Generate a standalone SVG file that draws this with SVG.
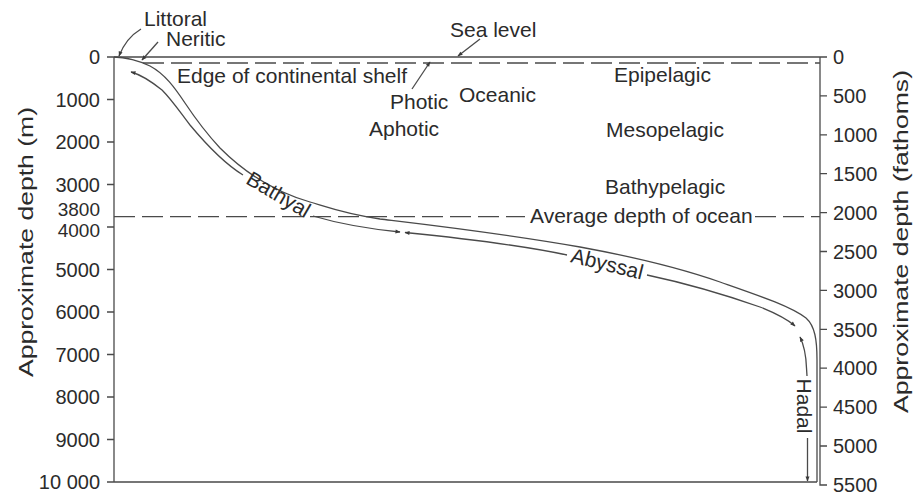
<svg xmlns="http://www.w3.org/2000/svg" width="915" height="497" viewBox="0 0 915 497">
<defs>
<style>
.ln{fill:none;stroke:#4a4a4a;stroke-width:1.3}
.dash{fill:none;stroke:#4a4a4a;stroke-width:1.3;stroke-dasharray:21 7}
.tx{font-family:"Liberation Sans",Arial,sans-serif;font-size:21px;fill:#2b2b2b}
.ttl{font-family:"Liberation Sans",Arial,sans-serif;font-size:20px;fill:#2b2b2b}
.num{font-family:"Liberation Sans",Arial,sans-serif;font-size:20px;fill:#2b2b2b}
.sm{font-size:19px}
.l{text-anchor:end}
.m{text-anchor:middle}
</style>
<marker id="ah" viewBox="0 0 10 10" refX="9" refY="5" markerWidth="7" markerHeight="5" markerUnits="userSpaceOnUse" orient="auto-start-reverse">
<path d="M0,1 L10,5 L0,9 z" fill="#3a3a3a"/>
</marker>
</defs>
<rect width="915" height="497" fill="#ffffff"/>

<g id="axes">
<path class="ln" d="M107,57 H827 M114,57 V482 M107,482 H817 M820,57 V485 H827"/>
<path class="ln" d="M107,99.5 H114 M107,142 H114 M107,184.5 H114 M107,227 H114 M107,269.5 H114 M107,312 H114 M107,354.5 H114 M107,397 H114 M107,439.5 H114"/>
<path class="ln" d="M820,95.9 H827 M820,134.8 H827 M820,173.7 H827 M820,212.6 H827 M820,251.5 H827 M820,290.4 H827 M820,329.3 H827 M820,368.2 H827 M820,407.1 H827 M820,446 H827"/>
<g class="num l">
<text x="100" y="64">0</text>
<text x="100" y="106.5">1000</text>
<text x="100" y="149">2000</text>
<text x="100" y="191.5">3000</text>
<text class="sm" x="100" y="216">3800</text>
<text class="sm" x="100" y="237">4000</text>
<text x="100" y="276.5">5000</text>
<text x="100" y="319">6000</text>
<text x="100" y="361.5">7000</text>
<text x="100" y="404">8000</text>
<text x="100" y="446.5">9000</text>
<text x="100" y="489">10 000</text>
</g>
<g class="num">
<text x="833" y="64">0</text>
<text x="833" y="103">500</text>
<text x="833" y="142">1000</text>
<text x="833" y="181">1500</text>
<text x="833" y="220">2000</text>
<text x="833" y="258.5">2500</text>
<text x="833" y="297.5">3000</text>
<text x="833" y="336.5">3500</text>
<text x="833" y="375">4000</text>
<text x="833" y="414">4500</text>
<text x="833" y="453">5000</text>
<text x="833" y="492">5500</text>
</g>
<text class="ttl m" transform="translate(33,242) rotate(-90)" textLength="270" lengthAdjust="spacingAndGlyphs">Approximate depth (m)</text>
<text class="ttl m" transform="translate(907.5,241.5) rotate(-90)" textLength="343" lengthAdjust="spacingAndGlyphs">Approximate depth (fathoms)</text>
</g>

<g id="reference-lines">
<path class="dash" d="M143,63 H820"/>
<path class="dash" d="M114,216.7 H525"/>
<path class="dash" d="M755,216.7 H820" stroke-dasharray="5 4 22 7"/>
</g>

<g id="seafloor">
<path class="ln" d="M114,57 C125,57 140,61 150,66 C165,74 175,88 185,103 C197,121 207,134 220,148 C245,173 275,192 310,202 C330,208 345,214 380,219 C430,225 500,233 580,247 C640,258 680,268 720,282 C760,296 790,306 806,318 C815,326 817,340 817,360 L817,482"/>
</g>

<g id="connectors">
<path class="ln" marker-start="url(#ah)" d="M131,72 C142,75 152,82 162,90 C172,100 180,112 190,125 C205,143 222,162 243,175"/>
<path class="ln" marker-end="url(#ah)" d="M313,216 C340,224 370,229 400,232"/>
<path class="ln" marker-start="url(#ah)" d="M405,232.5 C440,236 520,245 567,255"/>
<path class="ln" marker-end="url(#ah)" d="M647,275 C680,282 720,293 760,307 C775,313 787,319 795,326"/>
<path class="ln" marker-start="url(#ah)" d="M800,337 C804,345 806,355 806.5,368 L807,376"/>
<path class="ln" marker-end="url(#ah)" d="M807.5,438 L807.5,481"/>
<path class="ln" marker-end="url(#ah)" d="M141,29 Q126,38 119,56"/>
<path class="ln" marker-end="url(#ah)" d="M158,42 L142,60"/>
<path class="ln" marker-end="url(#ah)" d="M480,39 L458,56"/>
<path class="ln" marker-end="url(#ah)" d="M412,89 L430,62"/>
</g>

<g id="zone-littoral"><text class="tx" x="144" y="26">Littoral</text></g>
<g id="zone-neritic"><text class="tx" x="166" y="46">Neritic</text></g>
<g id="sea-level"><text class="tx" x="450" y="37">Sea level</text></g>
<g id="edge-shelf"><text class="tx" x="177" y="83">Edge of continental shelf</text></g>
<g id="photic"><text class="tx" x="390" y="109">Photic</text></g>
<g id="aphotic"><text class="tx" x="369" y="136">Aphotic</text></g>
<g id="oceanic"><text class="tx" x="459" y="102">Oceanic</text></g>
<g id="epipelagic"><text class="tx" x="614" y="82">Epipelagic</text></g>
<g id="mesopelagic"><text class="tx" x="606" y="137">Mesopelagic</text></g>
<g id="bathypelagic"><text class="tx" x="605" y="194">Bathypelagic</text></g>
<g id="average-depth"><text class="tx" x="530" y="223">Average depth of ocean</text></g>
<g id="bathyal"><text class="tx m" transform="translate(278,195.5) rotate(30.5)" y="6">Bathyal</text></g>
<g id="abyssal"><text class="tx m" transform="translate(607,265) rotate(14)" y="6">Abyssal</text></g>
<g id="hadal"><text class="tx m" transform="translate(804,406) rotate(90)" y="7">Hadal</text></g>
</svg>
